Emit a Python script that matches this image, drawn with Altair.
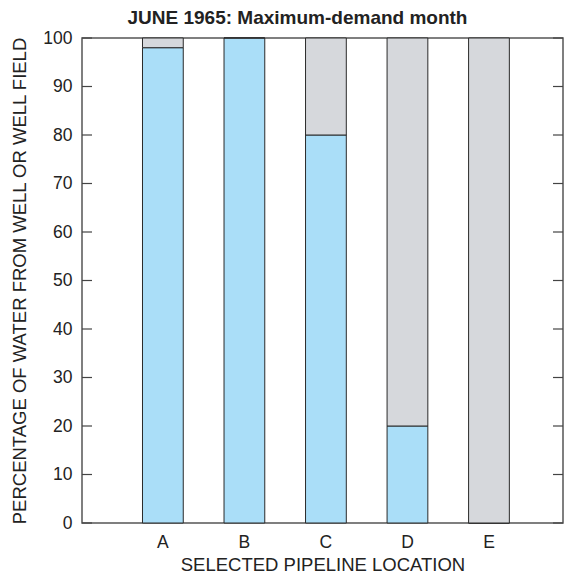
import altair as alt
import pandas as pd

locations = ["A", "B", "C", "D", "E"]
well_pct = [98, 100, 80, 20, 0]
other_pct = [2, 0, 20, 80, 100]
series = ["Well", "Other"]
colors = ["#aadef8", "#d6d8dc"]
tick_values = list(range(0, 101, 10))

rows = []
for i, loc in enumerate(locations):
    rows.append({"loc": loc, "series": series[0], "order": 0, "pct": well_pct[i]})
    rows.append({"loc": loc, "series": series[1], "order": 1, "pct": other_pct[i]})
df = pd.DataFrame(rows)
ticks = pd.DataFrame({"v": tick_values})

FONT = "Liberation Sans"
W, H = 481, 485

yscale = alt.Scale(domain=[0, 100], nice=False, zero=True)

bars = alt.Chart(df).mark_bar(stroke="#2a2a2a", strokeWidth=1).encode(
    x=alt.X("loc:N", sort=locations,
            scale=alt.Scale(paddingInner=0.5, paddingOuter=0.7, align=0.53),
            axis=alt.Axis(title="SELECTED PIPELINE LOCATION", labelAngle=0,
                          ticks=False, domain=False, labelPadding=10,
                          labelFontSize=17.5, titleFontSize=18.5, titleFontWeight="normal",
                          labelFont=FONT, titleFont=FONT, labelColor="#222", titleColor="#222",
                          titlePadding=5)),
    y=alt.Y("pct:Q", stack="zero", scale=yscale,
            axis=alt.Axis(title="PERCENTAGE OF WATER FROM WELL OR WELL FIELD",
                          values=tick_values, ticks=False, domain=False, grid=False,
                          labelPadding=10, labelFontSize=17.5, titleFontSize=18.5,
                          titleFontWeight="normal", labelFont=FONT, titleFont=FONT,
                          labelColor="#222", titleColor="#222", titlePadding=13)),
    color=alt.Color("series:N", scale=alt.Scale(domain=series, range=colors), legend=None),
    order=alt.Order("order:Q"),
)

left_ticks = alt.Chart(ticks).mark_rule(color="#444", strokeWidth=1.2).encode(
    x=alt.value(0), x2=alt.value(10), y=alt.Y("v:Q", scale=yscale)
)
right_ticks = alt.Chart(ticks).mark_rule(color="#444", strokeWidth=1.2).encode(
    x=alt.value(W - 10), x2=alt.value(W), y=alt.Y("v:Q", scale=yscale)
)

chart = alt.layer(bars, left_ticks, right_ticks).properties(
    width=W, height=H,
    title=alt.TitleParams("JUNE 1965: Maximum-demand month", font=FONT, fontSize=19,
                          fontWeight="bold", color="#222", anchor="middle", dx=-25, offset=1),
    autosize=alt.AutoSizeParams(type="none"),
    padding={"left": 74, "top": 30, "right": 2, "bottom": 52},
).configure(background="white").configure_view(stroke="#555", strokeWidth=1.5)

chart.save("out.html", embed_options={"renderer": "svg", "actions": False})
